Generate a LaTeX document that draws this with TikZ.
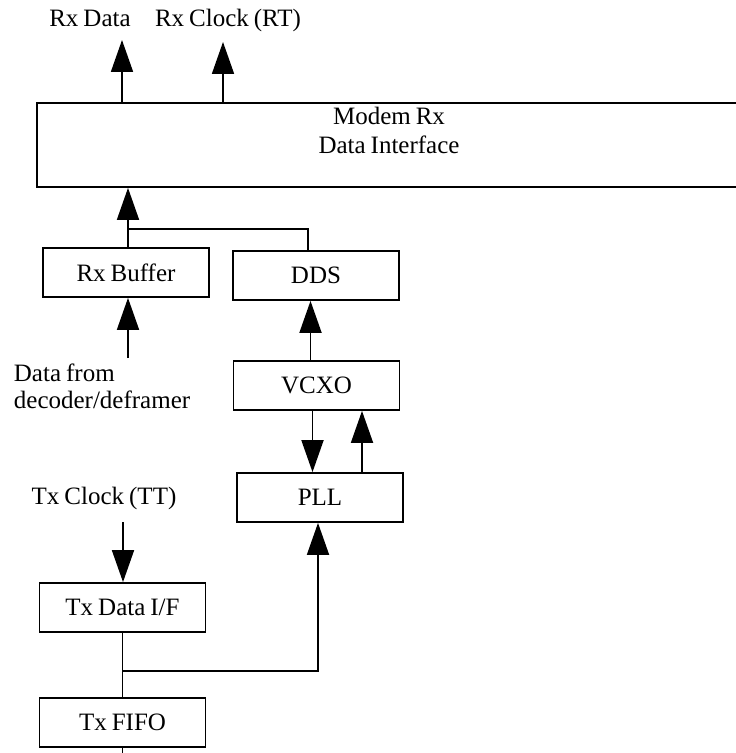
\documentclass[tikz,border=0pt]{standalone}
\usepackage{fontspec}
\setmainfont[WordSpace=0.8]{Liberation Serif}
\usetikzlibrary{arrows.meta}

\begin{document}
\begin{tikzpicture}[x=0.5pt, y=-0.5pt, line width=0.9pt,
    font=\fontsize{12.5pt}{14.5pt}\selectfont,
    blk/.style={draw, minimum width=83pt, minimum height=24.5pt, inner sep=0pt},
    lbl/.style={inner sep=0pt},
    arr/.style={-{Triangle[length=16pt,width=11pt]}}]
  \useasboundingbox (0,0) rectangle (735,753);

  % blocks
  \node[blk, minimum width=352pt, minimum height=42pt,
    label={[name=modemtxt, anchor=north, align=center, inner sep=0pt, yshift=-2pt]north:Modem Rx\\Data Interface}]
    (modem) at (389,145) {};
  \node[blk] (rxbuf) at (126,272.5) {Rx Buffer};
  \node[blk] (dds) at (316,275.5) {DDS};
  \node[blk] (vcxo) at (316.5,385.5) {VCXO};
  \node[blk] (pll) at (320,497.5) {PLL};
  \node[blk] (txif) at (122.5,607.5) {Tx Data I/F};
  \node[blk] (txfifo) at (122.5,722.5) {Tx FIFO};

  % labels
  \node[lbl, anchor=base] (rxdata) at (90,27) {Rx Data};
  \node[lbl, anchor=base] (rxclk) at (228,27) {Rx Clock (RT)};
  \node[lbl, anchor=north west, align=left, font=\fontsize{12.5pt}{13.5pt}\selectfont]
    (datafrom) at (13,363) {Data from\\decoder/deframer};
  \node[lbl, anchor=base] (txclk) at (104,504) {Tx Clock (TT)};

  % free ends and junctions
  \coordinate (rxdtip) at (122,40);
  \coordinate (rxctip) at (223,42);
  \coordinate (rxjn) at (128,229);
  \coordinate (datatail) at (128,358);
  \coordinate (clktail) at (123,522);
  \coordinate (txjn) at (122.5,671);
  \coordinate (txout) at (122.5,770);

  % connectors
  \draw[arr] (modem.north -| rxdtip) -- (rxdtip);
  \draw[arr] (modem.north -| rxctip) -- (rxctip);
  \draw[arr] (rxbuf.north -| rxjn) -- (modem.south -| rxjn);
  \draw (rxjn) -| ([xshift=-4pt]dds.north);
  \draw[arr] (datatail) -- (rxbuf.south -| datatail);
  \draw[arr] ([xshift=-3pt]vcxo.north) -- ([xshift=-3pt]vcxo.north |- dds.south);
  \draw[arr] ([xshift=-2pt]vcxo.south) -- ([xshift=-2pt]vcxo.south |- pll.north);
  \draw[arr] ([xshift=21pt]pll.north) -- ([xshift=21pt]pll.north |- vcxo.south);
  \draw[arr] (clktail) -- (txif.north -| clktail);
  \draw (txif.south) -- (txfifo.north);
  \draw[arr] (txjn) -| ([xshift=-1pt]pll.south);
  \draw (txfifo.south) -- (txout);
\end{tikzpicture}
\end{document}
